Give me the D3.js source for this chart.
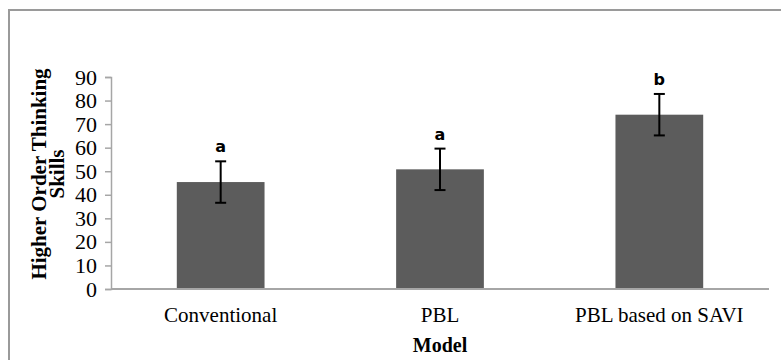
<!DOCTYPE html>
<html>
<head>
<meta charset="utf-8">
<script src="https://cdn.jsdelivr.net/npm/d3@7"></script>
<style>
  body { margin: 0; background: #fff; }
  svg { display: block; }
</style>
</head>
<body>
<div id="chart"></div>
<script>
(function () {
  const models = ['Conventional', 'PBL', 'PBL based on SAVI'];
  const means = [45.4, 50.8, 74.0];
  const errors = [8.8, 8.8, 8.8];
  const groupLetters = ['a', 'a', 'b'];
  const yTicks = [0, 10, 20, 30, 40, 50, 60, 70, 80, 90];

  const barColor = '#5c5c5c';
  const axisColor = '#a6a6a6';
  const serif = '"Liberation Serif", "Times New Roman", serif';

  const width = 781, height = 360;
  const margin = { top: 77, right: 12, bottom: 71, left: 111 };

  const svg = d3.select('#chart').append('svg')
    .attr('width', width)
    .attr('height', height);

  // outer frame (only top and left edges show)
  svg.append('path')
    .attr('d', 'M9,' + height + 'V10H' + width)
    .attr('fill', 'none')
    .attr('stroke', '#9a9a9a')
    .attr('stroke-width', 2);

  const x = d3.scaleBand()
    .domain(models)
    .range([margin.left, width - margin.right])
    .paddingInner(0.6)
    .paddingOuter(0.3);

  const y = d3.scaleLinear()
    .domain([0, 90])
    .range([height - margin.bottom, margin.top]);

  // bars
  svg.selectAll('rect.bar')
    .data(models)
    .enter()
    .append('rect')
    .attr('class', 'bar')
    .attr('x', function (d) { return x(d); })
    .attr('width', x.bandwidth())
    .attr('y', function (d, i) { return y(means[i]); })
    .attr('height', function (d, i) { return y(0) - y(means[i]); })
    .attr('fill', barColor);

  // y axis
  const yAxis = svg.append('g')
    .attr('transform', 'translate(' + margin.left + ',0)')
    .call(d3.axisLeft(y).tickValues(yTicks).tickSize(6).tickPadding(8));

  yAxis.select('.domain').attr('stroke', axisColor).attr('stroke-width', 1.5);
  yAxis.selectAll('.tick line').attr('stroke', axisColor).attr('stroke-width', 1.5);
  yAxis.selectAll('.tick text')
    .style('font-family', serif)
    .style('font-size', '22px')
    .attr('fill', '#000');

  // x axis line
  svg.append('line')
    .attr('x1', margin.left)
    .attr('x2', width - margin.right)
    .attr('y1', y(0))
    .attr('y2', y(0))
    .attr('stroke', axisColor)
    .attr('stroke-width', 2);

  // x labels
  svg.selectAll('text.xlabel')
    .data(models)
    .enter()
    .append('text')
    .attr('class', 'xlabel')
    .attr('x', function (d) { return x(d) + x.bandwidth() / 2; })
    .attr('y', 322)
    .attr('text-anchor', 'middle')
    .style('font-family', serif)
    .style('font-size', '21px')
    .text(function (d) { return d; });

  // error bars
  const err = svg.selectAll('g.err')
    .data(models)
    .enter()
    .append('g')
    .attr('class', 'err')
    .attr('transform', function (d) {
      return 'translate(' + (x(d) + x.bandwidth() / 2) + ',0)';
    });

  err.append('line')
    .attr('y1', function (d, i) { return y(means[i] + errors[i]); })
    .attr('y2', function (d, i) { return y(means[i] - errors[i]); })
    .attr('stroke', '#000')
    .attr('stroke-width', 2);

  [1, -1].forEach(function (s) {
    err.append('line')
      .attr('x1', -5.5)
      .attr('x2', 5.5)
      .attr('y1', function (d, i) { return y(means[i] + s * errors[i]); })
      .attr('y2', function (d, i) { return y(means[i] + s * errors[i]); })
      .attr('stroke', '#000')
      .attr('stroke-width', 2);
  });

  // significance letters
  err.append('text')
    .attr('y', function (d, i) { return y(means[i] + errors[i]) - 9; })
    .attr('text-anchor', 'middle')
    .style('font-family', '"DejaVu Sans", Arial, sans-serif')
    .style('font-weight', 'bold')
    .style('font-size', '16px')
    .text(function (d, i) { return groupLetters[i]; });

  // axis titles
  const yTitle = svg.append('text')
    .attr('transform', 'translate(46,' + 174 + ') rotate(-90)')
    .attr('text-anchor', 'middle')
    .style('font-family', serif)
    .style('font-weight', 'bold')
    .style('font-size', '21px');

  yTitle.append('tspan').attr('x', 0).attr('y', 0).text('Higher Order Thinking');
  yTitle.append('tspan').attr('x', 0).attr('y', 18).text('Skills');

  svg.append('text')
    .attr('x', x('PBL') + x.bandwidth() / 2)
    .attr('y', 352)
    .attr('text-anchor', 'middle')
    .style('font-family', serif)
    .style('font-weight', 'bold')
    .style('font-size', '20px')
    .text('Model');
}());
</script>
</body>
</html>
